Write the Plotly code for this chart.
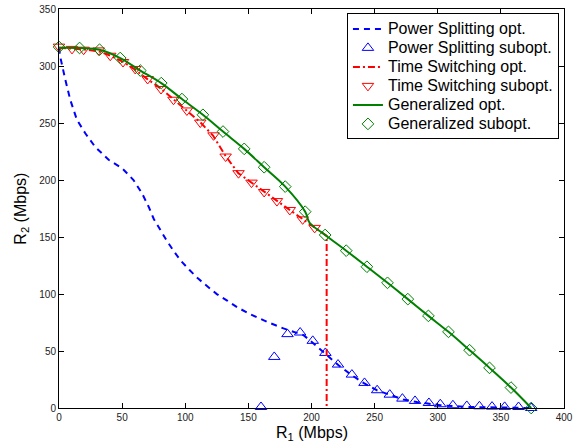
import plotly.graph_objects as go

# Power Splitting optimal (blue dashed)
ps_opt_x = [0, 1, 5, 9, 14.2, 20.8, 28.7, 39.3, 49.9, 59, 65.7, 71, 75, 80.2, 85, 90.3, 96,
            103.4, 110, 117.2, 125, 133.5, 141.4, 152, 164.7, 177.8, 186, 193.7, 201.6, 210.9,
            221.4, 232, 241.2, 251.8, 262.3, 272.8, 283.4, 302, 323, 349, 374]
ps_opt_y = [316, 308, 288, 270, 252.8, 241, 229, 217.7, 210.4, 200, 188.4, 176.6, 166, 156,
            147.4, 138.6, 129.8, 121, 113.7, 107, 99.9, 94, 88.2, 82, 75.6, 69.8, 67, 63.9,
            56.6, 47.8, 37.5, 28.7, 22, 15.6, 11.2, 7.4, 5.3, 2.4, 0.9, 0.2, 0]

# Power Splitting suboptimal (blue triangles)
ps_sub_x = [160, 170.5, 181, 191, 201, 211, 221, 232, 242, 252, 262, 272, 282, 293, 302,
            312, 323, 333, 343, 353, 364, 374]
ps_sub_y = [0.9, 44.8, 64.8, 66.2, 58.9, 48.3, 38.1, 29.3, 22, 15.6, 11.7, 8.2, 6.2, 4.4,
            3.3, 2.4, 1.8, 1.5, 1.2, 1.0, 0.9, 0]

# Time Switching optimal (red dash-dot)
ts_opt_x = [0, 10, 20, 31, 41, 51, 60, 70, 81, 91, 101, 112, 122, 132, 142, 153, 163, 173,
            183, 193, 203, 212, 212]
ts_opt_y = [316, 315.5, 314.5, 313, 309, 303.5, 297, 288.5, 280, 270.5, 261, 250.5, 239, 221,
            206, 197.5, 189.5, 181.5, 173.5, 165.5, 158, 151, 0]

# Time Switching suboptimal (red down-triangles)
ts_sub_x = [0, 10.3, 19.5, 31.4, 40.6, 50.7, 60.4, 70.2, 80.8, 90.7, 101.3, 111.9, 122.4,
            132, 142.2, 152.5, 162.5, 172.6, 182.8, 193, 202.5]
ts_sub_y = [317, 315, 314.3, 313.7, 309, 303.5, 297.4, 288.6, 279.8, 270.4, 261, 250.4, 239.2,
            220.6, 206, 197.7, 189.5, 181.5, 173.7, 165.5, 158]

# Generalized optimal (green solid)
gen_opt_x = [0, 16.3, 32.1, 48.5, 64.4, 81, 97.4, 114, 129.9, 146.7, 162.5, 179.2, 195,
             198.5, 210.8, 227.5, 243.9, 260.2, 276.3, 292.6, 308.5, 325.2, 341, 358, 374]
gen_opt_y = [316, 315.8, 314.3, 307, 296, 285, 271, 257.2, 242.5, 227.3, 211.2, 194.2, 172.2,
             162.5, 151.8, 138, 123.9, 109.8, 95.5, 80.8, 66.8, 50.7, 35.2, 17.9, 0]

# Generalized suboptimal (green diamonds)
gen_sub_x = [0, 16.3, 32.1, 48.5, 64.4, 81, 97.4, 114, 129.9, 146.7, 162.5, 179.2, 195,
             210.8, 227.5, 243.9, 260.2, 276.3, 292.6, 308.5, 325.2, 341, 358, 374]
gen_sub_y = [316.7, 315.8, 314.3, 307, 296, 285, 271, 257.2, 242.5, 227.3, 211.2, 194.2,
             172.2, 151.8, 138, 123.9, 109.8, 95.5, 80.8, 66.8, 50.7, 35.2, 17.9, 0]

series_names = ["Power Splitting opt.", "Power Splitting subopt.", "Time Switching opt.",
                "Time Switching subopt.", "Generalized opt.", "Generalized subopt."]

x_ticks = [0, 50, 100, 150, 200, 250, 300, 350, 400]
y_ticks = [0, 50, 100, 150, 200, 250, 300, 350]

BLUE = "#0000ff"
RED = "#ff0000"
GREEN = "#008000"
FONT = "Liberation Sans, Arial"


def lname(s):
    # larger glyphs while keeping compact legend rows
    return "<span style='font-size:16px'>" + s + "</span>"


fig = go.Figure()
fig.add_trace(go.Scatter(x=ps_opt_x, y=ps_opt_y, mode="lines", name=lname(series_names[0]),
                         line=dict(color=BLUE, width=2, dash="6px,5px")))
fig.add_trace(go.Scatter(x=ps_sub_x, y=ps_sub_y, mode="markers", name=lname(series_names[1]),
                         marker=dict(symbol="triangle-up-open", size=10, color=BLUE,
                                     line=dict(width=1, color=BLUE)), cliponaxis=False))
fig.add_trace(go.Scatter(x=ts_opt_x, y=ts_opt_y, mode="lines", name=lname(series_names[2]),
                         line=dict(color=RED, width=2, dash="7px,3px,2px,3px")))
fig.add_trace(go.Scatter(x=ts_sub_x, y=ts_sub_y, mode="markers", name=lname(series_names[3]),
                         marker=dict(symbol="triangle-down-open", size=10, color=RED,
                                     line=dict(width=1, color=RED)), cliponaxis=False))
fig.add_trace(go.Scatter(x=gen_opt_x, y=gen_opt_y, mode="lines", name=lname(series_names[4]),
                         line=dict(color=GREEN, width=2), line_shape="spline"))
fig.add_trace(go.Scatter(x=gen_sub_x, y=gen_sub_y, mode="markers", name=lname(series_names[5]),
                         marker=dict(symbol="diamond-open", size=9, color=GREEN,
                                     line=dict(width=1, color=GREEN)), cliponaxis=False))

axis_common = dict(showline=True, linecolor="black", linewidth=1, mirror="ticks",
                   ticks="inside", ticklen=5, tickcolor="black", showgrid=False,
                   zeroline=False, automargin=False,
                   tickfont=dict(family=FONT, size=10, color="#222222"))

fig.update_layout(
    width=573, height=444,
    margin=dict(l=59, r=9, t=9, b=36, autoexpand=False),
    paper_bgcolor="white", plot_bgcolor="white",
    font=dict(family=FONT, color="black"),
    showlegend=True,
    legend=dict(x=0.99, y=0.989, xanchor="right", yanchor="top",
                bgcolor="white", bordercolor="black", borderwidth=1,
                font=dict(family=FONT, size=12.3, color="black"), tracegroupgap=0,
                itemwidth=30),
    annotations=[
        dict(text="R<sub>1</sub> (Mbps)", xref="paper", yref="paper", x=0.5, y=-0.036,
             xanchor="center", yanchor="top", showarrow=False,
             font=dict(family=FONT, size=16, color="black")),
        dict(text="R<sub>2</sub> (Mbps)", xref="paper", yref="paper", x=-0.075, y=0.5,
             xanchor="center", yanchor="middle", textangle=-90, showarrow=False,
             font=dict(family=FONT, size=16, color="black")),
    ],
)
fig.update_xaxes(range=[0, 400], tickvals=x_ticks, ticktext=[str(v) for v in x_ticks],
                 **axis_common)
fig.update_yaxes(range=[0, 350], tickvals=y_ticks, ticktext=[str(v) for v in y_ticks],
                 **axis_common)

fig.write_html("out.html", config={"displayModeBar": False},
               post_script="document.body.style.margin='0';document.body.style.padding='0';")
